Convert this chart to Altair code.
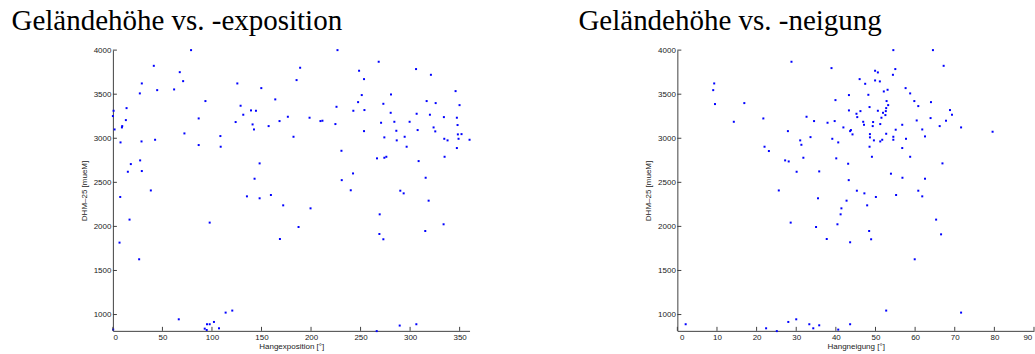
import altair as alt
import pandas as pd

# ---- data ----
expo = [0.7, 0, 1.7, 7.7, 9.1, 9.4, 13.1, 13.8, 18.1, 15.1, 27.2, 29.2, 28.9, 27.5, 29.2, 41.3, 44.7, 42.6,
        61.8, 67.5, 70.9, 72.2, 78.9, 86.6, 86.6, 93.4, 108.5, 108.8, 123.9, 125.6, 128.9, 131.6, 139.4, 144.4,
        141, 142.4, 149.8, 148.1, 143, 157.2, 163.9, 168.2, 176.6, 182.3, 185.4, 189, 198.5, 209.5, 211.5,
        224.6, 225.7, 226.7, 230.7, 231, 242.4, 242.7, 247.5, 248.5, 240.1,
        7.4, 6.7, 16.8, 26.5, 38.3, 66.5, 92.7, 94.7, 95, 97.7, 102, 107.1, 113.8, 120.5, 97.7, 135.3, 148.1,
        159.5, 171.9, 168.6, 187.4, 199.5, 0.3,
        268.3, 253.5, 306, 321, 251.2, 280.7, 253.9, 273, 345.9, 316.7, 325.8, 349.9, 280.4, 306.6, 320, 334.1,
        347.2, 270.7, 284.1, 299.5, 347.9, 253.5, 286.1, 307.6, 323.7, 325.4, 274, 294.5, 286.5, 348.2, 351.9,
        334.5, 337.8, 348.9, 360, 296.5, 347.2, 266.6, 274, 276, 308.6, 334.8, 315.7,
        290.1, 293.5, 318.7, 269.3, 333.8, 315.3, 269, 273, 289.5, 306.3, 266.3]
hoehe_expo = [3312, 3252, 3100, 2953, 3123, 3138, 3206, 3342, 2707, 2620, 3509, 3622, 2964, 2749, 2628, 3822, 3546, 2983,
              3554, 3750, 3648, 3055, 4000, 3225, 2923, 3422, 3025, 2904, 3184, 3622, 3369, 3267, 3316, 3312,
              3157, 3100, 3569, 2715, 2541, 3138, 3441, 3195, 3244, 3017, 3660, 3800, 3233, 3195, 3199,
              3161, 3357, 4000, 2858, 2525, 2601, 3312, 3410, 3766, 2410,
              2334, 1816, 2077, 1627, 2408, 946, 840, 825, 890, 890, 916, 844, 1022, 1045, 2043, 2341, 2319,
              2356, 2239, 1857, 1993, 2205, 830,
              3868, 3671, 3785, 3720, 3490, 3497, 3320, 3391, 3535, 3422, 3399, 3376, 3289, 3278, 3267, 3240,
              3233, 3176, 3187, 3187, 3150, 3081, 3085, 3093, 3123, 3078, 3010, 3017, 2976, 3044, 3047,
              2994, 2976, 2994, 2983, 2904, 2889, 2772, 2779, 2790, 2741, 2790, 2552,
              2405, 2375, 2292, 2137, 2024, 1948, 1914, 1854, 875, 890, 812]

neigung = [9.3, 9.05, 9.5, 16.9, 14.25, 21.7, 28.8, 27.9, 22, 23.1, 31, 31.3, 33.6, 32.6, 34.5, 37.9, 27.2, 28.1,
           31.8, 30.1, 35.8,
           25.6, 28.6, 35.5, 35, 37.7, 2.1, 22.4, 25.1, 28, 30, 33.3, 34.3, 35.8,
           54.5, 64.5, 38.9, 67.2, 49.9, 50.6, 55, 54.4, 46, 49.9, 51.1, 47.4, 57.6, 53.05, 52.1, 58.75, 43.3,
           48.2, 39.9, 52.8, 59.8, 64, 53.2, 60.8, 48.5, 52.7, 43.3, 46.2, 50.6, 52.6, 68.8, 45.2, 51.9, 52.5,
           69.3, 45.4, 51.5, 39.7, 46.9, 49.4, 60.4, 63.9, 47.1, 49.3, 51.2, 56.75, 67.8, 66.2, 71.6, 79.55,
           41.9, 43.8, 43.6, 44.2, 48.6, 48.6, 52.7, 55.1, 61.8, 39.1, 40.6, 49.6, 51.2, 51.7, 54.5, 54.5, 57.7,
           62.5, 48.5, 56.75, 40.1, 49.1, 58.75, 66.9, 43.1, 53.9, 56.8, 62.5, 43.25,
           45.3, 47.2, 50.1, 55.2, 60.8, 61.8, 42.7, 47.9, 41.4, 41.2, 65.3, 40.4, 48.4, 66.55, 43.6, 48.9,
           59.9, 52.7, 71.6, 40.6, 43.6]
hoehe_neig = [3622, 3546, 3388, 3399, 3187, 3225, 3868, 3081, 2904, 2855, 2976, 2926, 3013, 3244, 3195, 3176, 2749, 2737,
              2779, 2620, 2624,
              2408, 2043, 2319, 1993, 1857, 890, 844, 812, 916, 946, 890, 844, 878,
              4000, 4000, 3796, 3822, 3766, 3747, 3785, 3720, 3671, 3656, 3645, 3618, 3569, 3550, 3531, 3509, 3490,
              3493, 3433, 3422, 3422, 3410, 3376, 3365, 3354, 3342, 3316, 3308, 3312, 3308, 3320, 3278, 3289, 3263,
              3267, 3240, 3233, 3195, 3187, 3184, 3202, 3229, 3153, 3138, 3161, 3153, 3199, 3138, 3123, 3074,
              3123, 3093, 3081, 3044, 3047, 3010, 3051, 3097, 3100, 2994, 2953, 2976, 2964, 2983, 3017, 2983, 2994,
              3021, 2904, 2889, 2772, 2790, 2790, 2715, 2711, 2598, 2552, 2541, 2525,
              2405, 2375, 2334, 2356, 2405, 2341, 2292, 2239, 2205, 2137, 2077, 2024, 1948, 1910, 1820, 1854,
              1627, 1045, 1022, 829, 890]

y_ticks = [1000, 1500, 2000, 2500, 3000, 3500, 4000]
expo_ticks = [0, 50, 100, 150, 200, 250, 300, 350]
neig_ticks = [0, 10, 20, 30, 40, 50, 60, 70, 80, 90]

titles = ["Geländehöhe vs. -exposition", "Geländehöhe vs. -neigung"]
x_titles = ["Hangexposition [°]", "Hangneigung [°]"]
y_title = "DHM–25 [mueM]"

W, H = 357, 281
AX = "#404040"
FONT = "Liberation Sans"


def panel(xs, ys, xticks, xdom, xtitle, title, dx, flush):
    df = pd.DataFrame({"xv": xs, "hoehe": ys})
    xscale = alt.Scale(domain=xdom, nice=False, zero=False)
    yscale = alt.Scale(domain=[815, 4000], nice=False, zero=False)
    xargs = dict(title=xtitle, values=xticks, ticks=False, grid=False, labelPadding=3, format="d",
                 titlePadding=1, domainColor=AX, labelColor="#222", titleColor="#222")
    if flush:
        xargs.update(labelFlush=True, labelFlushOffset=-2.2)
    xaxis = alt.Axis(**xargs)
    yaxis = alt.Axis(title=y_title, values=y_ticks, ticks=False, grid=False, labelPadding=2, format="d",
                     titlePadding=5, domainColor=AX, labelColor="#222", titleColor="#222")
    pts = alt.Chart(df).mark_square(size=4, color="#0000ff", opacity=1).encode(
        x=alt.X("xv:Q", scale=xscale, axis=xaxis),
        y=alt.Y("hoehe:Q", scale=yscale, axis=yaxis),
    )
    ydf = pd.DataFrame({"hoehe": y_ticks})
    yt = alt.Chart(ydf).mark_rule(color=AX, strokeWidth=1).encode(
        y=alt.Y("hoehe:Q", scale=yscale, axis=yaxis),
        x=alt.value(0), x2=alt.value(4),
    )
    xdf = pd.DataFrame({"xv": xticks})
    xt = alt.Chart(xdf).mark_rule(color=AX, strokeWidth=1).encode(
        x=alt.X("xv:Q", scale=xscale, axis=xaxis),
        y=alt.value(H), y2=alt.value(H - 4),
    )
    return alt.layer(pts, yt, xt).properties(
        width=W, height=H,
        title=alt.TitleParams(text=title, anchor="start", frame="group", dx=dx, font="Liberation Serif",
                              fontSize=29, fontWeight="normal", color="black",
                              baseline="alphabetic", offset=-13),
    )


left = panel(expo, hoehe_expo, expo_ticks, [0, 360], x_titles[0], titles[0], -101.5, False)
right = panel(neigung, hoehe_neig, neig_ticks, [0, 90], x_titles[1], titles[1], -99, True)

chart = alt.hconcat(left, right, spacing=108).properties(
    padding={"top": 7, "left": 11, "right": 0, "bottom": 0},
    background="white",
).configure_view(stroke=None).configure_axis(
    labelFont=FONT, titleFont=FONT, labelFontSize=8, titleFontSize=8, titleFontWeight="normal",
    domainWidth=1,
)

chart.save("out.html", embed_options={"renderer": "svg", "actions": False})
